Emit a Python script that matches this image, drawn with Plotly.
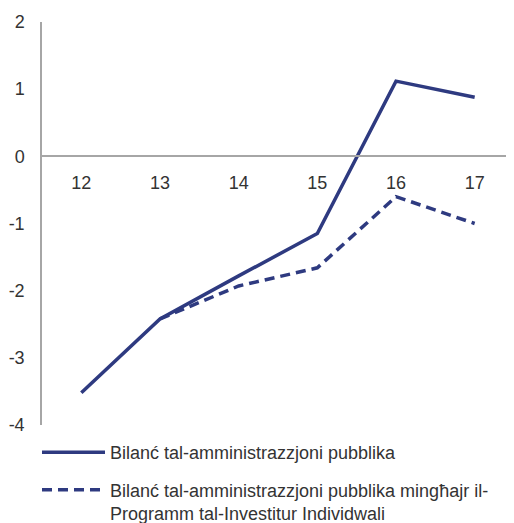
import plotly.graph_objects as go

years = ["12", "13", "14", "15", "16", "17"]
balance = [-3.52, -2.42, -1.78, -1.15, 1.12, 0.88]
balance_ex_iip = [None, -2.42, -1.93, -1.66, -0.6, -1.0]
y_ticks = [-4, -3, -2, -1, 0, 1, 2]
y_ticktext = ["-4", "-3", "-2", "-1", "0", "1", "2"]

name1 = "Bilanć tal-amministrazzjoni pubblika"
name2 = "Bilanć tal-amministrazzjoni pubblika mingħajr il-<br>Programm tal-Investitur Individwali"

navy = "#2E3A80"
grey = "#A6A6A6"
txt = "#333333"

fig = go.Figure()
fig.add_trace(go.Scatter(x=years, y=balance, mode="lines", name=name1, legendgroup="a",
                         line=dict(color=navy, width=3.5)))
fig.add_trace(go.Scatter(x=years, y=balance_ex_iip, mode="lines", name=name2, legendgroup="b",
                         line=dict(color=navy, width=3.5, dash="10px,6px")))

fig.update_layout(
    width=506, height=515,
    margin=dict(l=34, r=0, t=14, b=98, autoexpand=False),
    paper_bgcolor="white", plot_bgcolor="white",
    font=dict(family="Liberation Sans, Arial, sans-serif", size=18, color=txt),
    showlegend=True,
    legend=dict(x=-0.0106, xanchor="left", y=-0.0226, yanchor="top",
                orientation="v", itemwidth=63, tracegroupgap=11, valign="top",
                font=dict(size=18, color=txt), bgcolor="rgba(0,0,0,0)"),
    xaxis=dict(type="category", range=[-0.5, 5.5], anchor="free", position=4/6,
               showline=True, linecolor=grey, linewidth=1.5, automargin=False,
               showgrid=False, zeroline=False, ticks="",
               ticklabelstandoff=10, fixedrange=True),
    yaxis=dict(range=[-4, 2], tickvals=y_ticks, ticktext=y_ticktext,
               showline=True, linecolor=grey, linewidth=1.5, automargin=False,
               showgrid=False, zeroline=False, ticks="",
               ticklabelstandoff=12, fixedrange=True),
)

fig.write_html("out.html")
